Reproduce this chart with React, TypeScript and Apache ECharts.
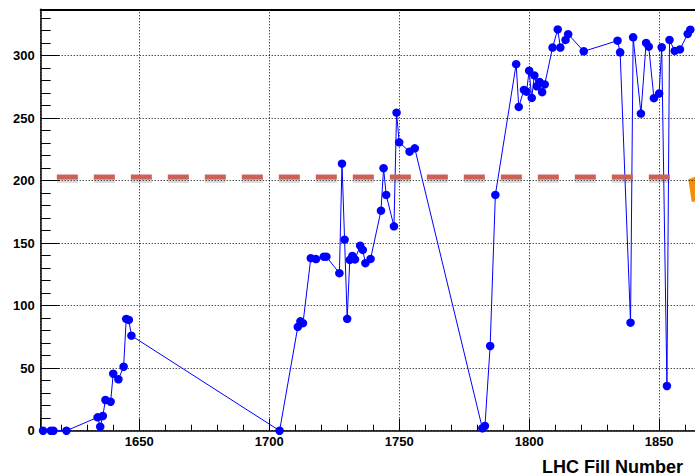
import React, { useEffect, useRef } from "react";
import * as echarts from "echarts";

// LHC fill numbers (x) and values (y)
const fills: number[] = [
  1613, 1616, 1617, 1622, 1634, 1635, 1636, 1637, 1639, 1640, 1642, 1644, 1645, 1646, 1647,
  1704, 1711, 1712, 1713, 1716, 1718, 1721, 1722, 1727, 1728, 1729, 1730, 1731, 1732, 1733,
  1735, 1736, 1737, 1739, 1743, 1744, 1745, 1748, 1749, 1750, 1754, 1756,
  1782, 1783, 1785, 1787, 1795, 1796, 1798, 1799, 1800, 1801, 1802, 1803, 1804, 1805, 1806,
  1809, 1811, 1812, 1814, 1815, 1821, 1834, 1835, 1839, 1840, 1843, 1845, 1846, 1848, 1850,
  1851, 1853, 1854, 1856, 1858, 1861, 1862,
];
const values: number[] = [
  0, 0, 0, 0, 10.7, 3.2, 11.8, 24.6, 23.2, 45.6, 41.1, 51.2, 89.4, 88.6, 76,
  0, 83, 87.5, 86, 138, 137.3, 139.2, 139.2, 126, 213.6, 152.8, 89.5, 136.6, 139.8, 137,
  148, 144.6, 134, 137.4, 176, 210, 188.6, 163.5, 254.4, 230.7, 223.2, 225.9,
  2, 3.8, 67.8, 188.6, 293.2, 259, 272.6, 271.2, 288, 266.2, 284.2, 275.5, 279, 270.8, 277,
  306.5, 321, 306.5, 312.6, 317.2, 303.5, 312, 302.7, 86.4, 314.7, 253.7, 310.2, 307.2, 266, 269.7,
  306.7, 35.8, 312.6, 303.8, 305, 317.4, 320.8,
];

// reference (dashed) line level and its span
const refLevel = 203;
const refShadowLevel = 200.6;
const refSpan: number[] = [1618.3, 1856.1];

const X_MIN = 1612.1;
const X_MAX = 1863.8;
const Y_MIN = 0;
const Y_MAX = 337.1;
const xTitle = "LHC Fill Number";

const FONT = "Liberation Sans";

export default function App() {
  const ref = useRef<HTMLDivElement>(null);
  useEffect(() => {
    if (!ref.current) return;
    const chart = echarts.init(ref.current, undefined, { renderer: "svg" });
    const data = fills.map((f, i) => [f, values[i]]);
    const refData = refSpan.map((x) => [x, refLevel]);
    const refShadow = refSpan.map((x) => [x, refShadowLevel]);
    const labelStyle = {
      color: "#000",
      fontSize: 13,
      fontWeight: "bold" as const,
      fontFamily: FONT,
    };
    const dotted = { show: true, lineStyle: { color: "#000", width: 1, type: [1, 2] as any } };
    chart.setOption({
      animation: false,
      backgroundColor: "#fff",
      grid: { left: 40.7, right: 0, top: 9.3, bottom: 45.3, containLabel: false },
      xAxis: [
        {
          type: "value",
          min: X_MIN,
          max: X_MAX,
          splitNumber: 5,
          position: "bottom",
          axisLine: { show: true, onZero: false, lineStyle: { color: "#000", width: 1.5 } },
          axisTick: { show: true, inside: true, length: 12, lineStyle: { color: "#000", width: 1 } },
          minorTick: { show: true, splitNumber: 5, length: 6, lineStyle: { color: "#000", width: 1 } },
          axisLabel: {
            ...labelStyle,
            margin: 4,
            showMinLabel: false,
            showMaxLabel: false,
            formatter: (v: number) => String(v),
          },
          splitLine: dotted,
        },
        {
          type: "value",
          min: X_MIN,
          max: X_MAX,
          position: "top",
          axisLine: { show: true, onZero: false, lineStyle: { color: "#000", width: 2 } },
          axisTick: { show: false },
          axisLabel: { show: false },
          splitLine: { show: false },
        },
      ],
      yAxis: {
        type: "value",
        min: Y_MIN,
        max: Y_MAX,
        interval: 50,
        axisLine: { show: true, onZero: false, lineStyle: { color: "#000", width: 1.5 } },
        axisTick: { show: true, inside: true, length: 19, lineStyle: { color: "#000", width: 1 } },
        minorTick: { show: true, splitNumber: 5, length: 10, lineStyle: { color: "#000", width: 1 } },
        axisLabel: {
          ...labelStyle,
          margin: 6,
          showMaxLabel: false,
          formatter: (v: number) => String(v),
        },
        splitLine: dotted,
      },
      series: [
        {
          type: "line",
          name: "data",
          xAxisIndex: 0,
          data,
          clip: false,
          symbol: "circle",
          symbolSize: 8.5,
          itemStyle: { color: "#0000ff" },
          lineStyle: { color: "#0000ff", width: 1 },
          z: 2,
        },
        {
          type: "line",
          name: "reference shadow",
          xAxisIndex: 0,
          data: refShadow,
          symbol: "none",
          silent: true,
          lineStyle: {
            color: "rgba(60,60,60,0.18)",
            width: 6,
            type: [21, 16],
            cap: "butt",
          },
          z: 3,
        },
        {
          type: "line",
          name: "reference",
          xAxisIndex: 0,
          data: refData,
          symbol: "none",
          silent: true,
          lineStyle: {
            color: "#cc6158",
            width: 5,
            type: [21, 16],
            cap: "butt",
          },
          z: 4,
        },
      ],
      graphic: [
        {
          type: "text",
          x: 683,
          y: 467,
          style: {
            text: xTitle,
            fill: "#000",
            font: `bold 18px "${FONT}"`,
            textAlign: "right",
            textVerticalAlign: "middle",
          },
        },
        {
          type: "polygon",
          shape: { points: [[688.3, 179.3], [695, 176.7], [695, 201.7], [691.7, 201.7]] },
          style: { fill: "#f0900e" },
        },
      ],
    });
    return () => chart.dispose();
  }, []);
  return (
    <div
      ref={ref}
      style={{ position: "fixed", left: 0, top: 0, width: 695, height: 476, background: "#fff" }}
    />
  );
}
